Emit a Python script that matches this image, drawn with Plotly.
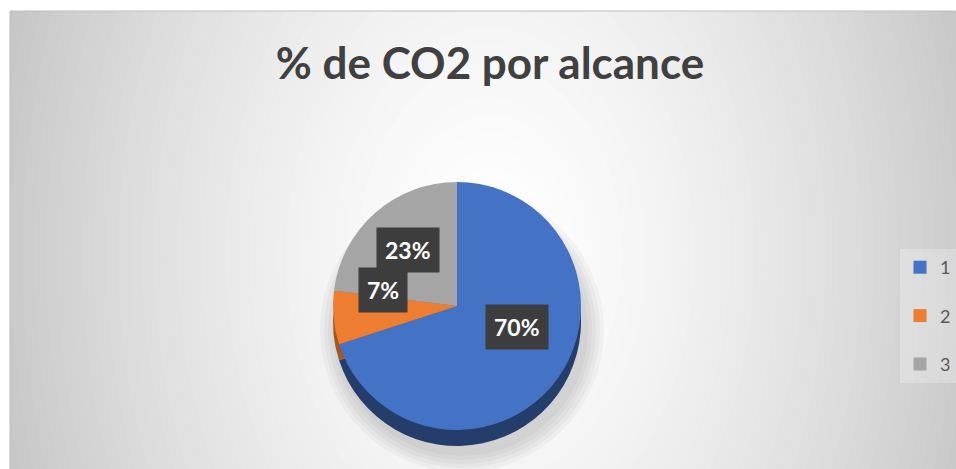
import math
import plotly.graph_objects as go

# ---- data ----
categories = ["1", "2", "3"]
values = [70, 7, 23]
colors = ["#4472C4", "#ED7D31", "#A5A5A5"]
side_colors = ["#243D6B", "#A4561F", "#6F6F6F"]
title_text = "% de CO2 por alcance"

# ---- geometry (pixels) ----
W, H = 956, 469
CX, CY, D, DEPTH = 457, 306, 248, 16
R = D / 2


def px(x):
    return x / W


def py(y):
    return 1 - y / H


def dom(cx, cy, d):
    return dict(x=[px(cx - d / 2), px(cx + d / 2)], y=[py(cy + d / 2), py(cy - d / 2)])


fig = go.Figure()

# side (depth) of the pie
fig.add_trace(go.Pie(
    labels=categories, values=values, sort=False, direction="clockwise", rotation=0,
    marker=dict(colors=side_colors, line=dict(width=0)),
    textinfo="none", hoverinfo="skip", showlegend=False,
    domain=dom(CX, CY + DEPTH, D),
))
# top face
fig.add_trace(go.Pie(
    labels=categories, values=values, sort=False, direction="clockwise", rotation=0,
    marker=dict(colors=colors, line=dict(width=0)),
    textinfo="none", showlegend=False,
    domain=dom(CX, CY, D),
))

# legend entries
for cat, col in zip(categories, colors):
    fig.add_trace(go.Scatter(
        x=[None], y=[None], mode="markers", name=cat, legendgroup=cat,
        marker=dict(symbol="square", size=13, color=col), hoverinfo="skip",
    ))

# ---- data labels ----
total = sum(values)
annotations = []
cum = 0
for v in values:
    mid = (cum + v / 2) / total * 2 * math.pi
    cum += v
    lx = CX + 0.6 * R * math.sin(mid)
    ly = CY - 0.6 * R * math.cos(mid)
    annotations.append(dict(
        x=px(lx), y=py(ly), xref="paper", yref="paper", showarrow=False,
        text=f"{round(v / total * 100)}%",
        font=dict(family="Lato, Open Sans, sans-serif", size=23, color="white", weight=700),
        bgcolor="#3d3d3d", borderpad=8,
    ))

# ---- background: radial gradient ----
shapes = []
GCX, GCY, RX, RY = 490, 255, 480, 700


def gray(d):
    g = int(round(255 - 52 * min(d, 1.15) ** 1.5))
    return f"rgb({g},{g},{g})"


shapes.append(dict(type="rect", xref="paper", yref="paper", x0=px(10), x1=px(956), y0=py(469), y1=py(11),
                   fillcolor=gray(1.15), line=dict(width=0), layer="below"))
N = 46
for k in range(N):
    s = 1.15 * (1 - k / N)
    shapes.append(dict(type="circle", xref="paper", yref="paper",
                       x0=px(GCX - RX * s), x1=px(GCX + RX * s),
                       y0=py(GCY + RY * s), y1=py(GCY - RY * s),
                       fillcolor=gray(s), line=dict(width=0), layer="below"))
# white margins outside chart area
shapes.append(dict(type="rect", xref="paper", yref="paper", x0=-0.05, x1=1.05, y0=py(11), y1=1.05,
                   fillcolor="white", line=dict(width=0), layer="below"))
shapes.append(dict(type="rect", xref="paper", yref="paper", x0=-0.05, x1=px(10), y0=-0.05, y1=1.05,
                   fillcolor="white", line=dict(width=0), layer="below"))
# chart border
shapes.append(dict(type="rect", xref="paper", yref="paper", x0=px(10), x1=px(957), y0=py(470), y1=py(11),
                   fillcolor="rgba(0,0,0,0)", line=dict(width=1, color="#BFBFBF"), layer="below"))
# soft shadow under the pie
for i in range(5):
    e = 2 + i * 4
    shapes.append(dict(type="circle", xref="paper", yref="paper",
                       x0=px(CX + 5 - R - e), x1=px(CX + 5 + R + e),
                       y0=py(CY + DEPTH + 8 + R + e), y1=py(CY + DEPTH + 8 - R - e),
                       fillcolor="rgba(0,0,0,0.03)", line=dict(width=0), layer="below"))

fig.update_layout(
    width=W, height=H,
    margin=dict(l=0, r=0, t=0, b=0),
    paper_bgcolor="white", plot_bgcolor="rgba(0,0,0,0)",
    title=dict(text=title_text, x=px(490), y=py(64), xanchor="center", yanchor="middle",
               font=dict(family="Lato, Open Sans, sans-serif", size=44, color="#404040", weight=700)),
    xaxis=dict(visible=False), yaxis=dict(visible=False),
    showlegend=True,
    legend=dict(x=px(900), y=py(316), xanchor="left", yanchor="middle", itemwidth=30,
                bgcolor="rgba(255,255,255,0.25)", tracegroupgap=22,
                font=dict(family="Lato, Open Sans, sans-serif", size=18, color="#595959"),
                itemclick=False, itemdoubleclick=False),
    annotations=annotations,
    shapes=shapes,
)

fig.write_html(
    "out.html",
    config={"displayModeBar": False},
    post_script="document.body.style.margin='0';document.body.style.overflow='hidden';",
)
